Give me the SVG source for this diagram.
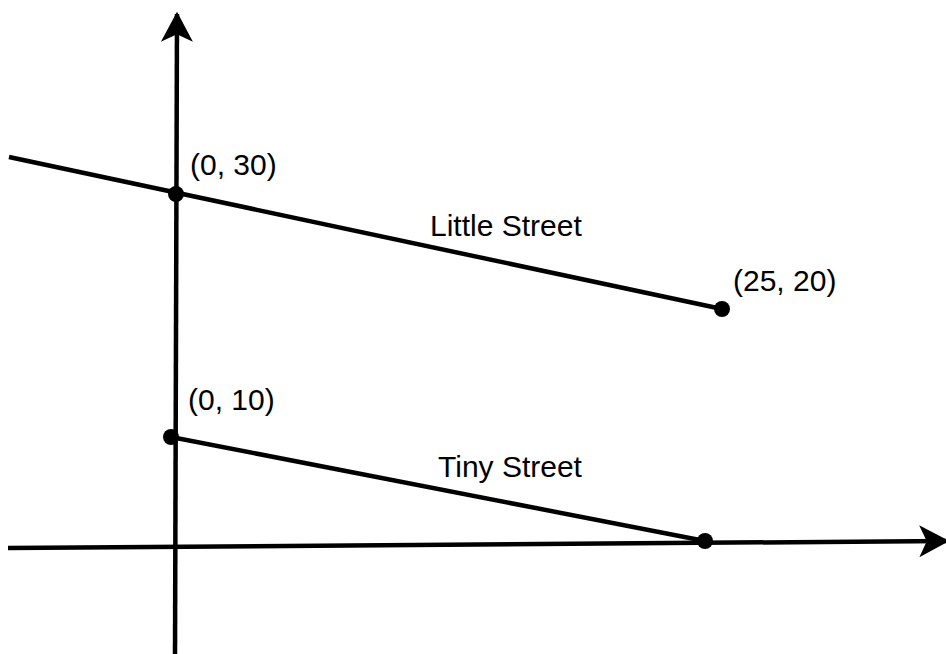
<svg xmlns="http://www.w3.org/2000/svg" width="946" height="654" viewBox="0 0 946 654">
<style>
.ln{stroke:#000;stroke-width:4.5;fill:none}
.dot{fill:#000}
.lbl{font-family:"Liberation Sans",Arial,sans-serif;font-size:30px;fill:#000}
</style>
<defs>
<marker id="arr" markerUnits="userSpaceOnUse" markerWidth="32" markerHeight="34" refX="26" refY="15" orient="auto" viewBox="0 0 30 30">
<path d="M0,0 L28,15 L0,30 L7,15 z" fill="#000"/>
</marker>
</defs>
<rect width="946" height="654" fill="#fff"/>
<g id="connectors">
<line class="ln" x1="175" y1="654" x2="177" y2="14" marker-end="url(#arr)"/>
<line class="ln" x1="8" y1="548" x2="947" y2="541" marker-end="url(#arr)"/>
<line id="little-street" class="ln" x1="9" y1="157" x2="722" y2="309"/>
<line id="tiny-street" class="ln" x1="171" y1="437" x2="705" y2="541"/>
</g>
<g id="p030"><circle class="dot" cx="176" cy="194" r="8"/><text class="lbl" x="190" y="175">(0, 30)</text></g>
<g id="p2520"><circle class="dot" cx="722" cy="309" r="8"/><text class="lbl" x="733" y="291">(25, 20)</text></g>
<g id="p010"><circle class="dot" cx="171" cy="437" r="8"/><text class="lbl" x="188" y="410">(0, 10)</text></g>
<g id="p250"><circle class="dot" cx="705" cy="541" r="8"/></g>
<g id="labels">
<text class="lbl" x="430" y="236">Little Street</text>
<text class="lbl" x="438" y="477">Tiny Street</text>
</g>
</svg>
